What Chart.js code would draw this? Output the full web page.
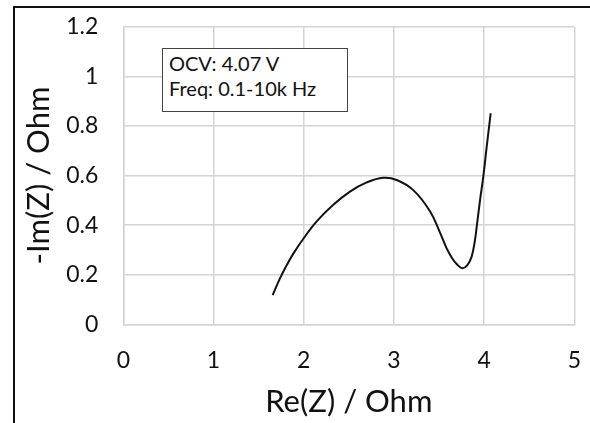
<!DOCTYPE html>
<html>
<head>
<meta charset="utf-8">
<script src="https://cdn.jsdelivr.net/npm/chart.js@4"></script>
<style>
    body {margin: 0; background: #fff; width: 590px; height: 423px; overflow: hidden; position: relative;}
    #frame {position: absolute; left: 13px; top: 6px; right: -5px; bottom: -5px;
        border-left: 2px solid #111; border-top: 2px solid #111;}
    #chart {position: absolute; left: 0; top: 0;}
    #note {position: absolute; left: 162px; top: 48px; width: 186px; height: 64px;
        border: 1.5px solid #444; background: #fff; padding: 2px 0 0 6px; box-sizing: border-box;
        font-family: Lato, sans-serif; font-size: 20px; line-height: 25px; color: #111;}
</style>
</head>
<body>
<div id="frame"></div>
<canvas id="chart" width="590" height="423"></canvas>
<div id="note">OCV: 4.07 V<br>Freq: 0.1-10k Hz</div>
<script>
const reZ = [1.656, 1.737, 1.811, 1.885, 1.996, 2.144, 2.328, 2.513, 2.698, 2.88, 3.031, 3.215, 3.40,
    3.511, 3.585, 3.64, 3.696, 3.758, 3.814, 3.862, 3.899, 3.917, 3.955, 3.991, 4.029, 4.073];
const negImZ = [0.118, 0.185, 0.238, 0.285, 0.345, 0.415, 0.482, 0.535, 0.572, 0.591, 0.582, 0.541, 0.456,
    0.37, 0.306, 0.27, 0.243, 0.226, 0.239, 0.273, 0.34, 0.39, 0.501, 0.595, 0.716, 0.851];
const xTicks = ['0', '1', '2', '3', '4', '5'];
const yTicks = ['0', '0.2', '0.4', '0.6', '0.8', '1', '1.2'];

let points = [];
for (const i in reZ) {
    points.push({x: reZ[i], y: negImZ[i]});
}

const gridColor = '#d4d4d4';
const textColor = '#111';

const config = {
    type: 'scatter',
    data: {
        datasets: [{
            data: points,
            showLine: true,
            borderColor: '#111',
            borderWidth: 2,
            pointRadius: 0,
            tension: 0.4
        }]
    },
    options: {
        responsive: false,
        animation: false,
        layout: {padding: {left: 0, top: 26.7, right: 15.7, bottom: 0}},
        plugins: {
            legend: {display: false},
            tooltip: {enabled: false}
        },
        scales: {
            x: {
                min: 0, max: 5,
                afterFit: (s) => {s.height = 98.7; s.paddingLeft = 0; s.paddingRight = 0;},
                grid: {color: gridColor, lineWidth: 1.5, drawTicks: false},
                border: {color: gridColor, width: 1.5},
                ticks: {
                    stepSize: 1, padding: 22, color: textColor,
                    font: {family: 'Lato', size: 23},
                    callback: (v, i) => xTicks[i]
                },
                title: {
                    display: true, text: 'Re(Z) / Ohm', color: textColor,
                    padding: {top: 4, bottom: 2},
                    font: {family: 'Lato', size: 31}
                }
            },
            y: {
                min: 0, max: 1.2,
                afterFit: (s) => {s.width = 123.3; s.paddingTop = 0; s.paddingBottom = 0;},
                grid: {color: gridColor, lineWidth: 1.5, drawTicks: false},
                border: {color: gridColor, width: 1.5},
                ticks: {
                    stepSize: 0.2, padding: 25, color: textColor,
                    font: {family: 'Lato', size: 23},
                    callback: (v, i) => yTicks[i]
                },
                title: {
                    display: true, text: '-Im(Z) / Ohm', color: textColor,
                    padding: {top: 20, bottom: 4},
                    font: {family: 'Lato', size: 31}
                }
            }
        }
    }
};

const nyquist = new Chart(document.getElementById('chart'), config);
</script>
</body>
</html>
